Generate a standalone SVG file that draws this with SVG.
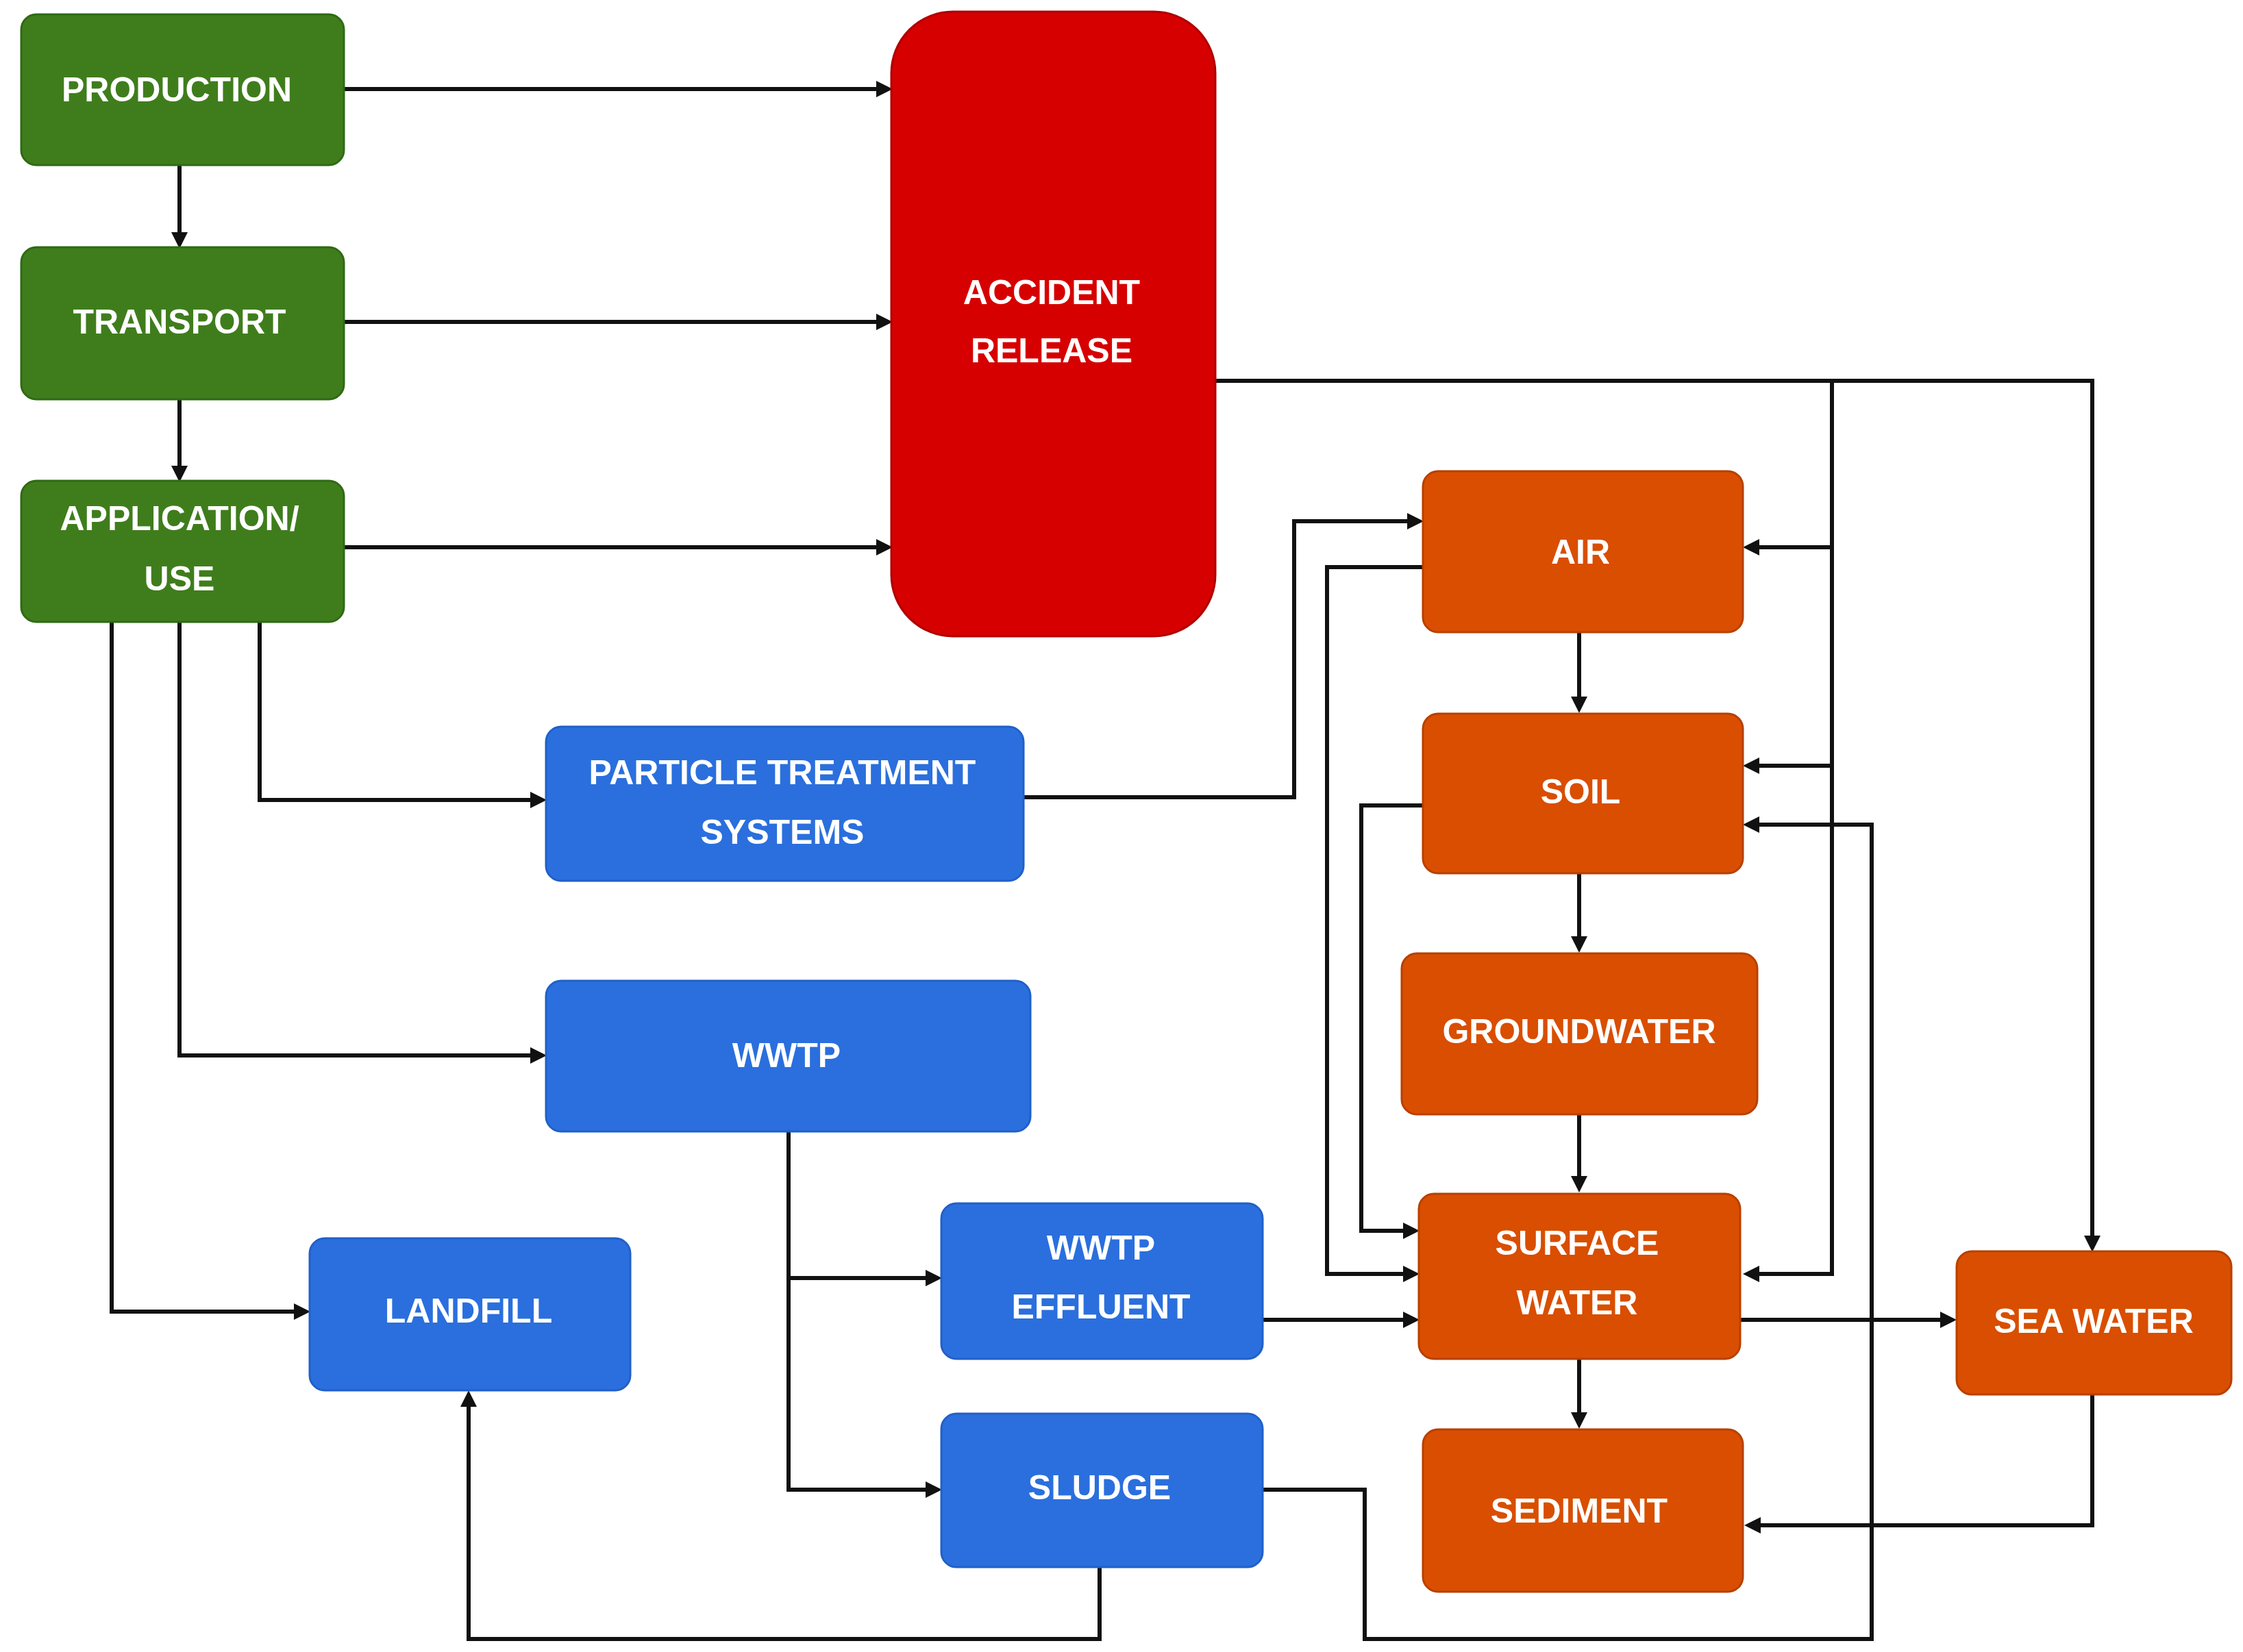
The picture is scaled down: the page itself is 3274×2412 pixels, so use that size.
<svg xmlns="http://www.w3.org/2000/svg" width="3274" height="2412" viewBox="0 0 3274 2412">
<style>
text{font-family:"Liberation Sans",Arial,sans-serif;font-weight:bold;font-size:50px;fill:#fff;text-anchor:middle;dominant-baseline:central}
.g{fill:#3f7d1c;stroke:#2f6a14;stroke-width:3}
.r{fill:#d60000;stroke:#b00000;stroke-width:3}
.o{fill:#d94e00;stroke:#b84000;stroke-width:3}
.b{fill:#2a6fdd;stroke:#2260c8;stroke-width:3}
#c path{fill:none;stroke:#111;stroke-width:6;marker-end:url(#a)}
</style>
<defs><marker id="a" markerWidth="4" markerHeight="4" refX="3" refY="2" orient="auto"><path d="M0,0L4,2L0,4z" fill="#111"/></marker></defs>
<rect width="3274" height="2412" fill="#fff"/>
<g id="c">
<path d="M502,130H1297"/>
<path d="M262,241V357"/>
<path d="M502,470H1297"/>
<path d="M262,583V698"/>
<path d="M502,799H1297"/>
<path d="M1774,556H3054V1822"/>
<path d="M2674,556V1860H2550"/>
<path d="M2674,799H2550"/>
<path d="M2674,1118H2550"/>
<path d="M379,908V1168H792"/>
<path d="M262,908V1541H792"/>
<path d="M163,908V1915H447"/>
<path d="M1494,1164H1889V761H2072"/>
<path d="M2077,828H1937V1860H2066"/>
<path d="M2077,1176H1987V1797H2066"/>
<path d="M1843,1927H2066"/>
<path d="M2305,923V1035"/>
<path d="M2305,1275V1385"/>
<path d="M2305,1627V1735"/>
<path d="M2305,1984V2080"/>
<path d="M2540,1927H2850"/>
<path d="M3054,2036V2227H2552"/>
<path d="M1151,1652V2175H1369"/>
<path d="M1151,1866H1369"/>
<path d="M1605,2288V2393H684V2036"/>
<path d="M1843,2175H1992V2393H2732V1204H2550"/>
</g>
<g id="production"><rect class="g" x="31" y="21" width="471" height="220" rx="22"/><text x="258" y="131">PRODUCTION</text></g>
<g id="transport"><rect class="g" x="31" y="361" width="471" height="222" rx="22"/><text x="262" y="470">TRANSPORT</text></g>
<g id="application"><rect class="g" x="31" y="702" width="471" height="206" rx="22"/><text x="262" y="757">APPLICATION/</text><text x="262" y="845">USE</text></g>
<g id="accident"><rect class="r" x="1301" y="17" width="473" height="912" rx="90"/><text x="1535" y="427">ACCIDENT</text><text x="1535" y="512">RELEASE</text></g>
<g id="air"><rect class="o" x="2077" y="688" width="467" height="235" rx="22"/><text x="2307" y="806">AIR</text></g>
<g id="soil"><rect class="o" x="2077" y="1042" width="467" height="233" rx="22"/><text x="2307" y="1156">SOIL</text></g>
<g id="groundwater"><rect class="o" x="2046" y="1392" width="519" height="235" rx="22"/><text x="2305" y="1506">GROUNDWATER</text></g>
<g id="surfacewater"><rect class="o" x="2071" y="1743" width="469" height="241" rx="22"/><text x="2302" y="1815">SURFACE</text><text x="2302" y="1902">WATER</text></g>
<g id="sediment"><rect class="o" x="2077" y="2087" width="467" height="237" rx="22"/><text x="2305" y="2206">SEDIMENT</text></g>
<g id="seawater"><rect class="o" x="2856" y="1827" width="401" height="209" rx="22"/><text x="3056" y="1929">SEA WATER</text></g>
<g id="pts"><rect class="b" x="797" y="1061" width="697" height="225" rx="22"/><text x="1142" y="1128">PARTICLE TREATMENT</text><text x="1142" y="1215">SYSTEMS</text></g>
<g id="wwtp"><rect class="b" x="797" y="1432" width="707" height="220" rx="22"/><text x="1148" y="1541">WWTP</text></g>
<g id="effluent"><rect class="b" x="1374" y="1757" width="469" height="227" rx="22"/><text x="1607" y="1822">WWTP</text><text x="1607" y="1908">EFFLUENT</text></g>
<g id="sludge"><rect class="b" x="1374" y="2064" width="469" height="224" rx="22"/><text x="1605" y="2172">SLUDGE</text></g>
<g id="landfill"><rect class="b" x="452" y="1808" width="468" height="222" rx="22"/><text x="684" y="1914">LANDFILL</text></g>
</svg>
